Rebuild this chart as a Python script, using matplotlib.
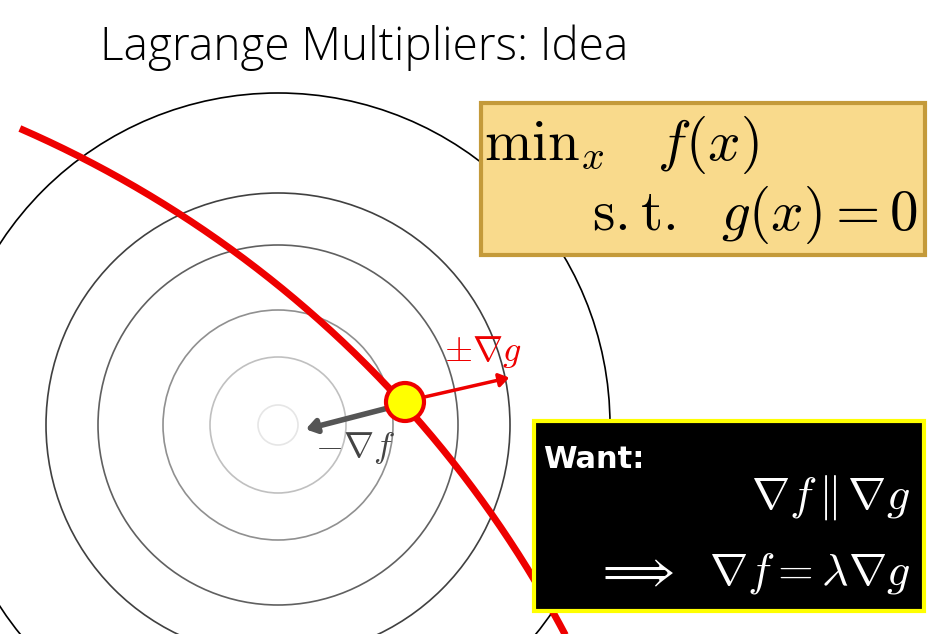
import matplotlib
matplotlib.use("Agg")
import matplotlib.pyplot as plt
import numpy as np
from matplotlib.patches import Circle, Rectangle, FancyArrowPatch

plt.rcParams['mathtext.fontset'] = 'cm'

# level sets of f (pixel space of the slide)
center = (278, 425)
radii = [20, 68, 115, 180, 232, 332]
ring_colors = ['#e6e6e6', '#c0c0c0', '#909090', '#606060', '#404040', '#000000']

# constraint curve g(x)=0, an arc of a big circle
g_center = (-429, 1159)
g_radius = 1124
g_angles = np.linspace(-1.16, -0.44, 400)

point = (405, 402)

fig = plt.figure(figsize=(9.44, 6.34), dpi=100)
ax = fig.add_axes([0, 0, 1, 1])
ax.set_xlim(0, 944)
ax.set_ylim(634, 0)
ax.axis('off')
fig.patch.set_facecolor('white')

for r, c in zip(radii, ring_colors):
    ax.add_patch(Circle(center, r, fill=False, ec=c, lw=1.2))

gx = g_center[0] + g_radius*np.cos(g_angles)
gy = g_center[1] + g_radius*np.sin(g_angles)
ax.plot(gx, gy, color='#ee0000', lw=5, solid_capstyle='butt')

ax.add_patch(FancyArrowPatch((392, 407), (303, 430), arrowstyle='-|>,head_length=6,head_width=4',
                             color='#555555', lw=4, zorder=4))
ax.add_patch(FancyArrowPatch((420, 398), (512, 377), arrowstyle='-|>,head_length=6,head_width=4',
                             color='#ee0000', lw=2.5, zorder=4))
ax.add_patch(Circle(point, 19, fc='#ffff00', ec='#ee0000', lw=3, zorder=5))

ax.text(355, 448, r'$-\nabla f$', fontsize=26, color='#444444', ha='center', va='center')
ax.text(483, 352, r'$\pm\nabla g$', fontsize=26, color='#ee0000', ha='center', va='center')

ax.text(100, 48, 'Lagrange Multipliers: Idea', fontsize=33, family='Open Sans',
        fontweight='light', ha='left', va='center')

ax.add_patch(Rectangle((481, 103), 444, 152, fc='#f9da8c', ec='#c49a3a', lw=3, zorder=6))
ax.text(484, 145, r'$\mathrm{min}_x\ \ \ f(x)$', fontsize=41, ha='left', va='center', zorder=7)
ax.text(918, 215, r'$\mathrm{s.t.}\ \ g(x)=0$', fontsize=41, ha='right', va='center', zorder=7)

ax.add_patch(Rectangle((534, 421), 390, 190, fc='black', ec='#ffff00', lw=3, zorder=6))
ax.text(543, 460, 'Want:', fontsize=22, fontweight='bold', color='white', family='DejaVu Sans',
        ha='left', va='center', zorder=7)
ax.text(910, 497, r'$\nabla f \,\|\, \nabla g$', fontsize=33, color='white', ha='right', va='center', zorder=7)
ax.text(910, 574, r'$\Longrightarrow\ \ \nabla f = \lambda \nabla g$', fontsize=33, color='white',
        ha='right', va='center', zorder=7)

fig.savefig('out.png', dpi=100)
